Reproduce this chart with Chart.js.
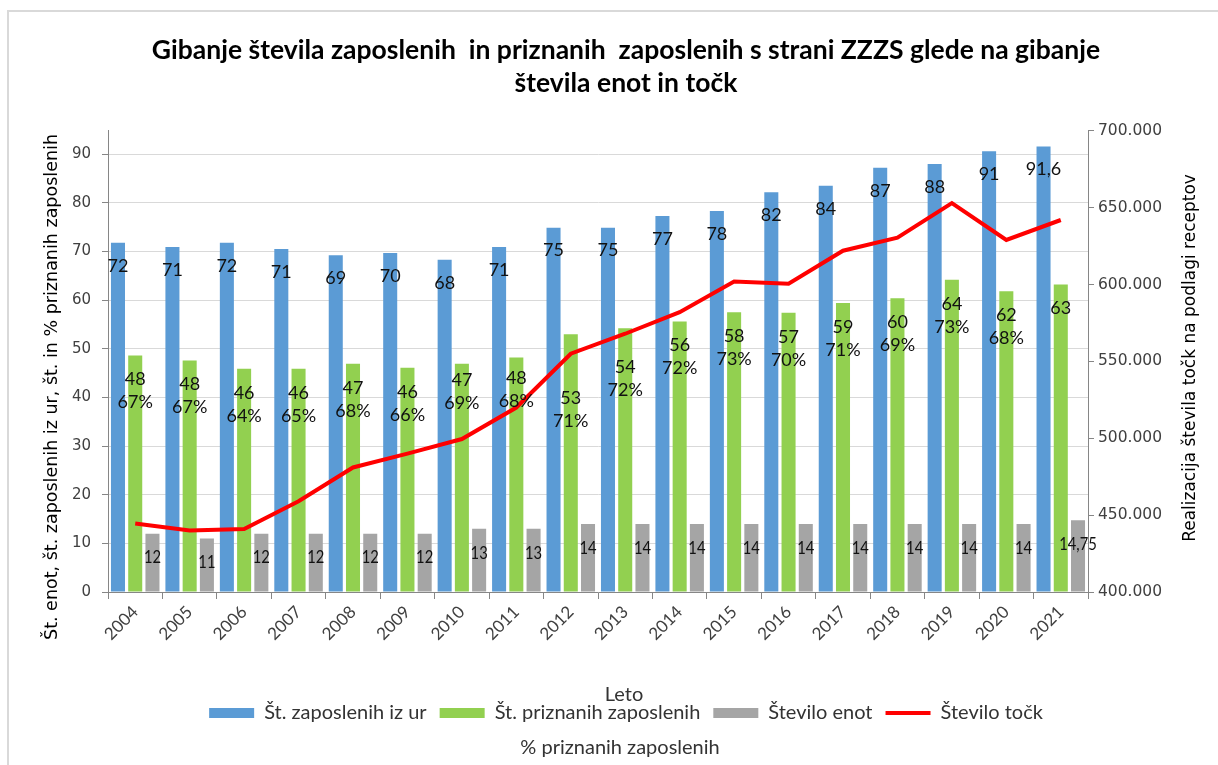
<!DOCTYPE html>
<html>
<head>
<meta charset="utf-8">
<script src="https://cdn.jsdelivr.net/npm/chart.js@4.4.1/dist/chart.umd.min.js"></script>
<style>
  html, body { margin: 0; padding: 0; background: #fff; }
  #wrap { width: 1218px; height: 765px; }
</style>
</head>
<body>
<div id="wrap"><canvas id="chart"></canvas></div>
<script>
var years = ['2004','2005','2006','2007','2008','2009','2010','2011','2012','2013','2014','2015','2016','2017','2018','2019','2020','2021'];

// bar heights, labels as printed on the bars
var zaposleniIzUr = [71.8,70.9,71.8,70.5,69.2,69.7,68.3,70.9,74.9,74.9,77.3,78.3,82.2,83.5,87.2,88.0,90.6,91.6];
var zaposleniIzUrLabels = ['72','71','72','71','69','70','68','71','75','75','77','78','82','84','87','88','91','91,6'];

var priznani = [48.6,47.6,45.9,45.9,46.9,46.1,46.9,48.2,53.0,54.2,55.6,57.5,57.4,59.4,60.4,64.2,61.8,63.2];
var priznaniLabels = ['48','48','46','46','47','46','47','48','53','54','56','58','57','59','60','64','62','63'];
var priznaniOdstotek = ['67%','67%','64%','65%','68%','66%','69%','68%','71%','72%','72%','73%','70%','71%','69%','73%','68%',''];

var steviloEnot = [12,11,12,12,12,12,13,13,14,14,14,14,14,14,14,14,14,14.75];

var steviloTock = [444500,440000,441000,459000,481000,490000,499500,520000,555000,568000,582000,602000,600500,622000,630500,653000,629000,642000];

function tisoc(v) {
  return String(v).replace(/\B(?=(\d{3})+(?!\d))/g, '.');
}

function navpicno(ctx, text, x, y) {
  ctx.save();
  ctx.translate(x, y);
  ctx.rotate(-Math.PI / 2);
  ctx.fillText(text, 0, 0);
  ctx.restore();
}

var oznake = {
  id: 'oznake',
  beforeDraw: function(chart) {
    var ctx = chart.ctx;
    ctx.save();
    ctx.fillStyle = '#fff';
    ctx.fillRect(0, 0, chart.width, chart.height);
    ctx.strokeStyle = '#d9d9d9';
    ctx.lineWidth = 2;
    ctx.beginPath();
    ctx.moveTo(8, chart.height);
    ctx.lineTo(8, 11);
    ctx.lineTo(chart.width, 11);
    ctx.stroke();
    ctx.restore();
  },
  afterDatasetsDraw: function(chart) {
    var ctx = chart.ctx;
    ctx.save();
    ctx.fillStyle = '#111';
    ctx.textAlign = 'center';
    ctx.textBaseline = 'middle';
    ctx.font = '18px Lato';
    chart.getDatasetMeta(0).data.forEach(function(bar, i) {
      ctx.fillText(zaposleniIzUrLabels[i], bar.x, bar.y + 23);
    });
    // a few labels were moved by hand in the original to dodge the line
    var premik = {6: -8, 7: -3, 8: 40, 9: 15};
    chart.getDatasetMeta(1).data.forEach(function(bar, i) {
      var y = bar.y + 24 + (premik[i] || 0);
      ctx.fillText(priznaniLabels[i], bar.x, y);
      if (priznaniOdstotek[i]) ctx.fillText(priznaniOdstotek[i], bar.x, y + 23);
    });
    chart.getDatasetMeta(2).data.forEach(function(bar, i) {
      ctx.save();
      ctx.translate(bar.x, bar.y + 24);
      ctx.scale(0.82, 1);
      ctx.fillText(String(steviloEnot[i]).replace('.', ','), 0, 0);
      ctx.restore();
    });
    ctx.restore();
  },
  afterDraw: function(chart) {
    var ctx = chart.ctx;
    ctx.save();
    ctx.fillStyle = '#000';
    ctx.textAlign = 'center';
    ctx.textBaseline = 'middle';
    ctx.font = '17.5px "DejaVu Sans"';
    navpicno(ctx, 'Št. enot, št. zaposlenih iz ur, št. in % priznanih zaposlenih', 52, 387);
    ctx.font = '17px "DejaVu Sans"';
    navpicno(ctx, 'Realizacija števila točk na podlagi receptov', 1191, 358);

    ctx.fillStyle = '#333';
    ctx.font = '20px Lato';
    ctx.fillText('Leto', 624, 695);
    ctx.fillText('% priznanih zaposlenih', 620, 748);
    ctx.restore();
  }
};

var ctx = document.getElementById('chart').getContext('2d');
var myChart = new Chart(ctx, {
  type: 'bar',
  data: {
    labels: years,
    datasets: [{
      label: 'Št. zaposlenih iz ur',
      data: zaposleniIzUr,
      backgroundColor: '#5b9bd5',
      pointStyle: 'rect',
      yAxisID: 'y',
      order: 1
    }, {
      label: 'Št. priznanih zaposlenih',
      data: priznani,
      backgroundColor: '#92d050',
      pointStyle: 'rect',
      yAxisID: 'y',
      order: 1
    }, {
      label: 'Število enot',
      data: steviloEnot,
      backgroundColor: '#a5a5a5',
      pointStyle: 'rect',
      yAxisID: 'y',
      order: 1
    }, {
      type: 'line',
      label: 'Število točk',
      data: steviloTock,
      borderColor: '#ff0000',
      backgroundColor: '#ff0000',
      borderWidth: 4,
      pointRadius: 0,
      pointStyle: 'line',
      tension: 0,
      yAxisID: 'y1',
      order: 0
    }]
  },
  options: {
    responsive: true,
    maintainAspectRatio: false,
    animation: false,
    barPercentage: 0.814,
    categoryPercentage: 0.95,
    layout: { padding: { left: 48, right: 14, top: 0, bottom: 32 } },
    plugins: {
      tooltip: { enabled: false },
      title: {
        display: true,
        text: ['Gibanje števila zaposlenih  in priznanih  zaposlenih s strani ZZZS glede na gibanje', 'števila enot in točk'],
        font: { family: 'Lato', size: 26.5, weight: 'bold', lineHeight: 1.28 },
        color: '#000',
        padding: { top: 33, bottom: 30 }
      },
      legend: {
        position: 'bottom',
        labels: {
          usePointStyle: true,
          pointStyleWidth: 45,
          boxHeight: 10,
          font: { family: 'Lato', size: 20 },
          color: '#333',
          padding: 13,
          sort: function(a, b) { return a.datasetIndex - b.datasetIndex; }
        }
      }
    },
    scales: {
      x: {
        grid: { offset: true, drawOnChartArea: false, drawTicks: true, tickLength: 7, tickColor: '#868686' },
        border: { color: '#868686' },
        ticks: { font: { family: 'Lato', size: 17 }, color: '#404040', maxRotation: 45, minRotation: 45, padding: 3 },
        afterFit: function(s) { s.height = 98; }
      },
      y: {
        position: 'left',
        min: 0,
        max: 94.8,
        ticks: { stepSize: 10, includeBounds: false, font: { family: 'DejaVu Sans', size: 15 }, color: '#404040', padding: 11 },
        grid: { color: '#d9d9d9', tickColor: '#868686', tickLength: 6 },
        border: { color: '#868686' },
        afterFit: function(s) { s.width = 60; }
      },
      y1: {
        position: 'right',
        min: 400000,
        max: 700000,
        ticks: { stepSize: 50000, font: { family: 'DejaVu Sans', size: 15.5 }, color: '#404040', padding: 4, callback: function(v) { return tisoc(v); } },
        grid: { drawOnChartArea: false, tickColor: '#868686', tickLength: 6 },
        border: { color: '#868686' },
        afterFit: function(s) { s.width = 116; }
      }
    }
  },
  plugins: [oznake]
});
</script>
</body>
</html>
